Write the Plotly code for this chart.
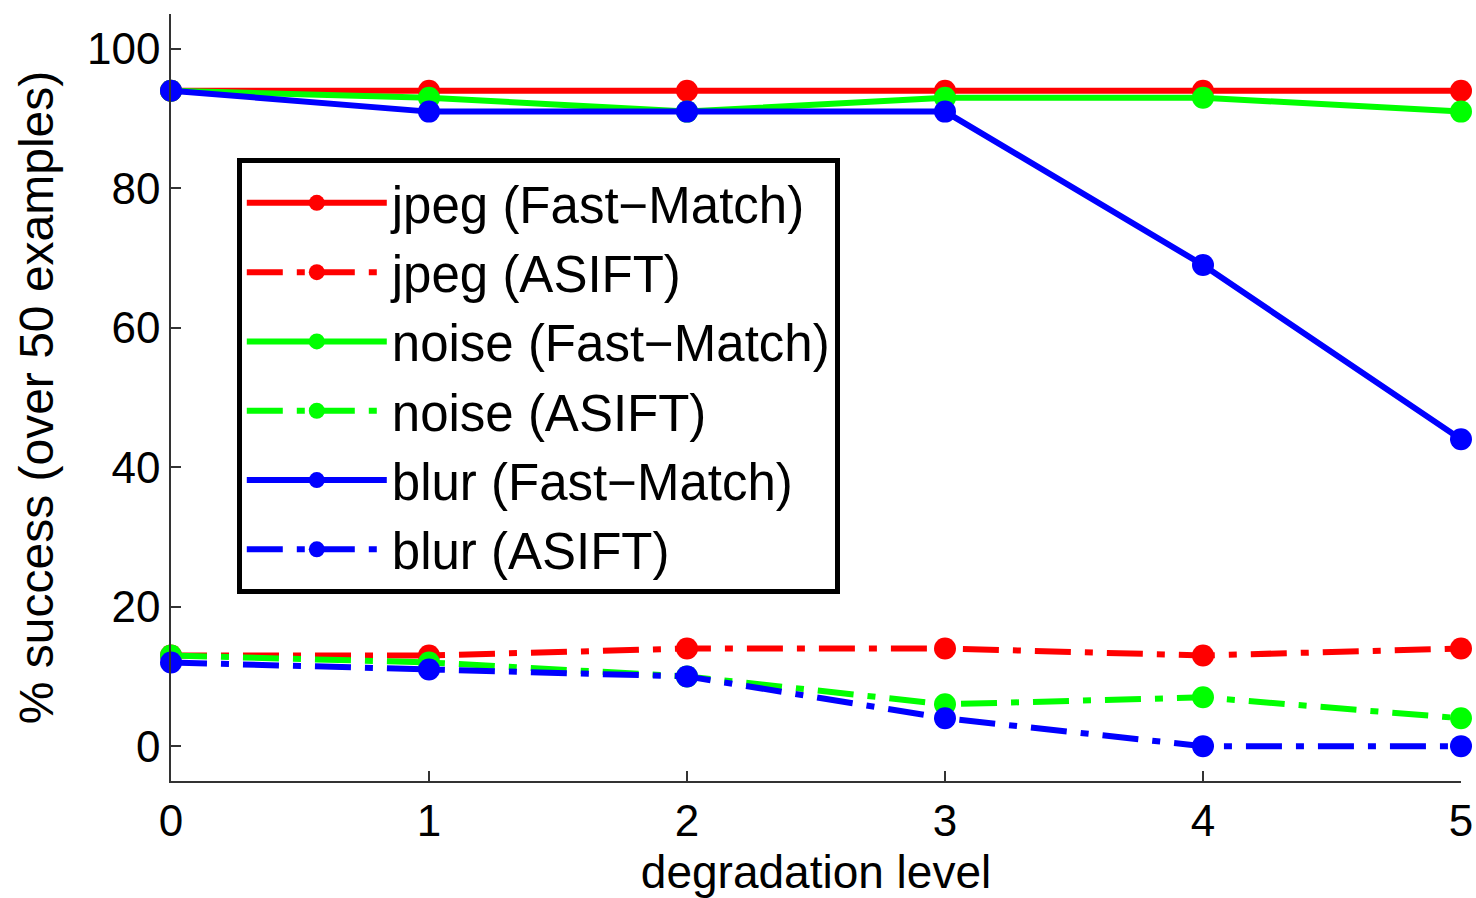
import plotly.graph_objects as go

levels = [0, 1, 2, 3, 4, 5]
jpeg_fm = [94, 94, 94, 94, 94, 94]
jpeg_asift = [13, 13, 14, 14, 13, 14]
noise_fm = [94, 93, 91, 93, 93, 91]
noise_asift = [13, 12, 10, 6, 7, 4]
blur_fm = [94, 91, 91, 91, 69, 44]
blur_asift = [12, 11, 10, 4, 0, 0]

dashdot = "36px,14px,8px,14px"
series = [
    ("jpeg (Fast\u2212Match)", jpeg_fm, "#ff0000", "solid"),
    ("jpeg (ASIFT)", jpeg_asift, "#ff0000", dashdot),
    ("noise (Fast\u2212Match)", noise_fm, "#00ff00", "solid"),
    ("noise (ASIFT)", noise_asift, "#00ff00", dashdot),
    ("blur (Fast\u2212Match)", blur_fm, "#0000ff", "solid"),
    ("blur (ASIFT)", blur_asift, "#0000ff", dashdot),
]

fig = go.Figure()
for name, vals, color, dash in series:
    fig.add_trace(go.Scatter(
        x=levels, y=vals, name=name, mode="lines+markers",
        line=dict(color=color, width=6, dash=dash),
        marker=dict(color=color, size=22),
        cliponaxis=False,
    ))

font = "Liberation Sans, Arial, Helvetica, sans-serif"
fig.update_layout(
    width=1476, height=898,
    margin=dict(l=171, r=15, t=14, b=117, autoexpand=False),
    paper_bgcolor="white", plot_bgcolor="white",
    font=dict(family=font, size=44, color="black"),
    showlegend=True,
    legend=dict(
        x=0.051, y=0.812, xanchor="left", yanchor="top",
        bgcolor="white", bordercolor="black", borderwidth=5,
        font=dict(size=51, family=font),
        itemwidth=140, tracegroupgap=0,
    ),
    xaxis=dict(
        range=[0, 5], tickvals=levels, ticks="inside", ticklen=10, tickwidth=1.5,
        tickcolor="#333", showline=True, linecolor="#333", linewidth=1.5,
        showgrid=False, zeroline=False, tickfont=dict(size=44), automargin=False,
        ticklabeloverflow="allow",
        title=dict(text="degradation level", font=dict(size=46), standoff=12),
    ),
    yaxis=dict(
        range=[-5, 105], tickvals=[0, 20, 40, 60, 80, 100], ticks="inside",
        ticklen=10, tickwidth=1.5, tickcolor="#333", showline=True,
        linecolor="#333", linewidth=1.5, showgrid=False, zeroline=False,
        tickfont=dict(size=44), automargin=False, ticklabeloverflow="allow",
        title=dict(text="% success (over 50 examples)", font=dict(size=48), standoff=18),
    ),
)

fig.write_html("out.html", config={"displayModeBar": False},
               post_script="document.body.style.margin='0px';")
